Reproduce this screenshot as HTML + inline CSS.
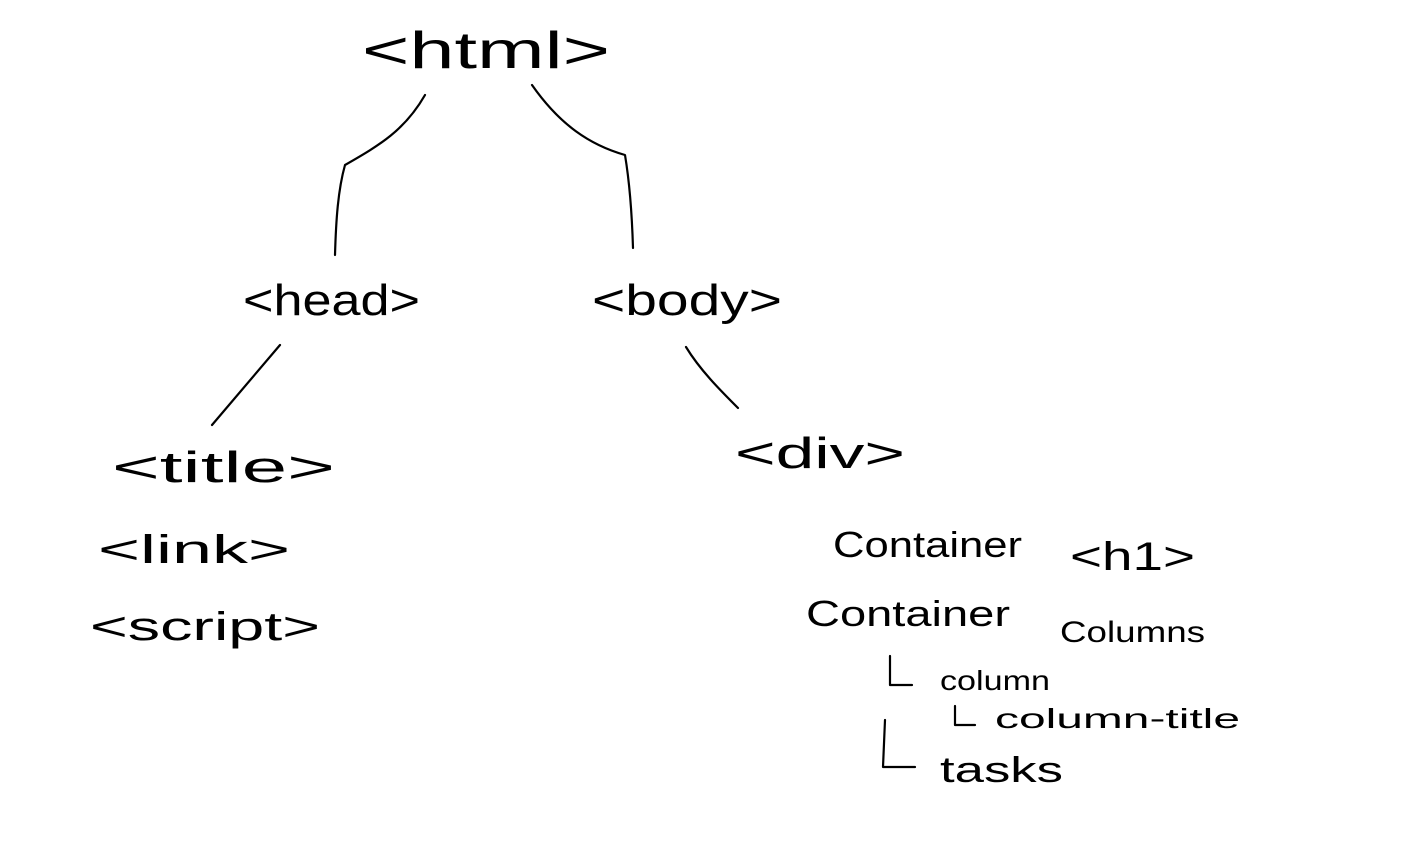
<!DOCTYPE html>
<html><head><meta charset="utf-8"><style>
html,body{margin:0;padding:0;background:#fff;}
svg{display:block}
text{font-family:"Liberation Sans",sans-serif;fill:#000;font-weight:normal}
</style></head><body>
<svg width="1404" height="845" viewBox="0 0 1404 845" xmlns="http://www.w3.org/2000/svg">
<g fill="none" stroke="#000" stroke-width="2.2" stroke-linecap="round" stroke-linejoin="round">
<path d="M425 95 C405 130 380 145 345 165 C338 190 336 220 335 255"/>
<path d="M532 85 C560 125 590 145 625 155 C630 185 632 215 633 248"/>
<path d="M280 345 L212 425"/>
<path d="M686 347 C700 370 720 390 738 408"/>
<path d="M890 656 L890 685 L912 685"/>
<path d="M955 706 L955 725 L975 725"/>
<path d="M885 720 L883 767 L915 767"/>
</g>
<text x="362" y="68" font-size="52" textLength="248" lengthAdjust="spacingAndGlyphs">&lt;html&gt;</text>
<text x="243" y="315" font-size="44" textLength="177" lengthAdjust="spacingAndGlyphs">&lt;head&gt;</text>
<text x="592" y="315" font-size="44" textLength="190" lengthAdjust="spacingAndGlyphs">&lt;body&gt;</text>
<text x="112" y="482" font-size="44" textLength="223" lengthAdjust="spacingAndGlyphs">&lt;title&gt;</text>
<text x="98" y="563" font-size="40" textLength="192" lengthAdjust="spacingAndGlyphs">&lt;link&gt;</text>
<text x="90" y="640" font-size="40" textLength="230" lengthAdjust="spacingAndGlyphs">&lt;script&gt;</text>
<text x="735" y="468" font-size="44" textLength="170" lengthAdjust="spacingAndGlyphs">&lt;div&gt;</text>
<text x="833" y="557" font-size="36" textLength="189" lengthAdjust="spacingAndGlyphs">Container</text>
<text x="1070" y="570" font-size="40" textLength="125" lengthAdjust="spacingAndGlyphs">&lt;h1&gt;</text>
<text x="806" y="626" font-size="36" textLength="204" lengthAdjust="spacingAndGlyphs">Container</text>
<text x="1060" y="642" font-size="30" textLength="145" lengthAdjust="spacingAndGlyphs">Columns</text>
<text x="940" y="690" font-size="28" textLength="110" lengthAdjust="spacingAndGlyphs">column</text>
<text x="995" y="728" font-size="28" textLength="245" lengthAdjust="spacingAndGlyphs">column-title</text>
<text x="940" y="782" font-size="36" textLength="123" lengthAdjust="spacingAndGlyphs">tasks</text>
</svg>
</body></html>
